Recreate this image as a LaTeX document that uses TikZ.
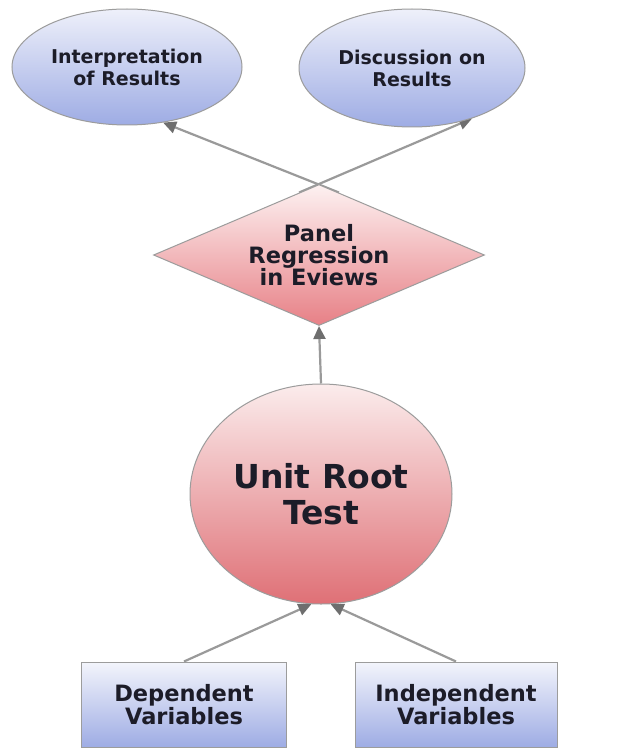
\documentclass[tikz,border=0pt]{standalone}
\usepackage{fontspec}
\setmainfont{DejaVu Sans}
\usetikzlibrary{shapes.geometric,arrows.meta,backgrounds,calc}
\definecolor{bordergray}{HTML}{9C9C9C}
\definecolor{linegray}{HTML}{9A9A9A}
\definecolor{tipgray}{HTML}{6E6E6E}
\definecolor{txt}{HTML}{1C1C28}
\definecolor{bluetop}{HTML}{EEF0FA}
\definecolor{bluebot}{HTML}{9EACE4}
\definecolor{pinktop}{HTML}{FDF1F1}
\definecolor{pinkbot}{HTML}{E78086}
\definecolor{redtop}{HTML}{FBECEC}
\definecolor{redbot}{HTML}{DF7076}
\begin{document}
\begin{tikzpicture}[x=1pt,y=-1pt,
  blueell/.style={ellipse,draw=bordergray,line width=1pt,top color=bluetop,bottom color=bluebot,
    inner sep=0pt,text=txt,align=center,font=\fontsize{19}{22}\selectfont\bfseries},
  bluebox/.style={rectangle,draw=bordergray,line width=1pt,top color=bluetop!70!white,bottom color=bluebot,
    inner sep=0pt,text=txt,align=center,font=\fontsize{22.5}{23}\selectfont\bfseries},
  conn/.style={draw=linegray,line width=2.2pt,-{Triangle[length=13pt,width=12pt,fill=tipgray,color=tipgray]}}
]
\useasboundingbox (0,0) rectangle (620,749);

\node[blueell,minimum width=230pt,minimum height=116pt] (interp) at (127,67) {Interpretation\\of Results};
\node[blueell,minimum width=226pt,minimum height=118pt] (disc) at (412,68) {Discussion on\\Results};
\node[diamond,draw=bordergray,line width=1pt,top color=pinktop,bottom color=pinkbot,
      minimum width=331pt,minimum height=141pt,inner sep=0pt] (panel) at (319,255) {};
\node[inner sep=0pt,text=txt,align=center,font=\fontsize{22.5}{22}\selectfont\bfseries]
      (paneltext) at (panel.center) {Panel\\Regression\\in Eviews};
\node[ellipse,draw=bordergray,line width=1pt,top color=redtop,bottom color=redbot,
      minimum width=262pt,minimum height=220pt,inner sep=0pt,text=txt,align=center,
      font=\fontsize{33}{36}\selectfont\bfseries] (unit) at (321,494) {Unit Root\\Test};
\node[bluebox,minimum width=205pt,minimum height=85pt] (dep) at (184,704.5) {Dependent\\Variables};
\node[bluebox,minimum width=202pt,minimum height=85pt] (indep) at (456,704.5) {Independent\\Variables};

\begin{pgfonlayer}{background}
\fill[white] (0,0) rectangle (620,749);
\draw[conn] ($(panel.north)!0.12!(panel.east)$) -- (interp.-57);
\draw[conn] ($(panel.north)!0.12!(panel.west)$) -- (disc.-40);
\draw[conn] (unit.north) -- (panel.south);
\draw[conn] (dep.north) -- (unit.-95);
\draw[conn] (indep.north) -- (unit.-85);
\end{pgfonlayer}
\end{tikzpicture}
\end{document}
